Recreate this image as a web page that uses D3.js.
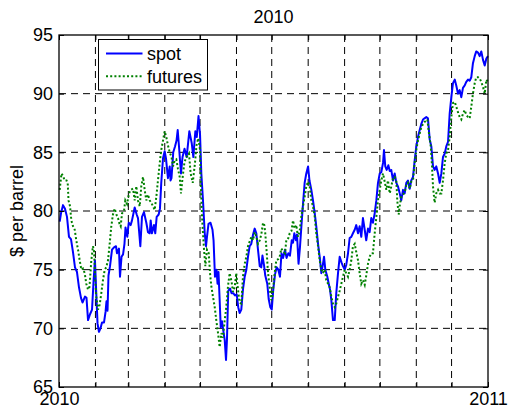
<!DOCTYPE html>
<html>
<head>
<meta charset="utf-8">
<script src="https://cdn.jsdelivr.net/npm/d3@7/dist/d3.min.js"></script>
<style>
  html, body { margin: 0; padding: 0; background: #fff; }
  svg { display: block; }
  text { font-family: "Liberation Sans", Arial, Helvetica, sans-serif; fill: #000; }
</style>
</head>
<body>
<svg id="chart" width="509" height="411"></svg>
<script>
// Crude oil prices in 2010, $ per barrel.
// Days are counted from 1 Jan 2010.
const spotDays = [
  0.6, 1.7, 3.4, 5.1, 6.8, 8.5, 10.2, 11.9, 13.6, 15.3,
  17.0, 18.7, 20.0, 22.1, 23.4, 24.7, 26.4, 28.1, 29.4, 30.6,
  31.9, 32.8, 34.0, 35.3, 36.6, 38.3, 39.6, 40.4, 41.3, 42.1,
  43.4, 45.1, 46.8, 48.5, 49.3, 51.0, 51.9, 53.2, 54.5, 55.7,
  56.6, 58.1, 59.3, 61.0, 62.1, 64.4, 66.1, 67.2, 69.2, 70.6,
  72.3, 74.3, 75.7, 77.2, 78.0, 79.1, 80.8, 81.9, 83.1, 84.8,
  85.9, 87.0, 88.5, 89.9, 91.0, 92.7, 94.2, 94.9, 95.7, 97.2,
  98.7, 100.0, 101.0, 102.1, 103.8, 105.1, 106.8, 108.6, 110.9, 112.9,
  114.3, 116.0, 117.2, 118.7, 120.0, 121.1, 122.5, 124.0, 125.1, 125.9,
  127.2, 128.9, 130.6, 131.5, 132.7, 134.0, 134.9, 135.7, 136.7, 137.6,
  138.7, 139.8, 141.0, 142.1, 142.9, 144.0, 145.5, 146.8, 148.3, 149.7,
  151.2, 152.5, 153.7, 155.1, 156.5, 158.0, 159.4, 160.8, 162.2, 163.6,
  165.1, 166.5, 167.9, 169.3, 170.8, 172.1, 173.1, 174.4, 175.5, 177.2,
  178.4, 179.8, 181.0, 182.3, 183.8, 185.2, 186.6, 188.0, 189.3, 190.6,
  192.3, 193.6, 195.1, 196.5, 198.0, 199.1, 200.2, 201.6, 202.5, 203.8,
  205.0, 206.3, 207.6, 209.0, 210.4, 211.9, 213.1, 214.7, 216.1, 217.6,
  218.9, 220.4, 221.8, 223.2, 224.6, 225.5, 226.6, 228.3, 229.5, 230.6,
  231.7, 233.1, 234.6, 235.9, 237.4, 238.8, 240.4, 241.6, 243.1, 244.4,
  245.9, 247.3, 248.7, 250.1, 251.6, 252.9, 254.4, 255.8, 257.2, 258.6,
  260.1, 261.4, 262.9, 264.3, 265.7, 267.1, 268.6, 270.0, 271.4, 272.9,
  274.2, 275.7, 276.5, 277.6, 278.8, 280.2, 281.4, 282.7, 284.2, 285.6,
  287.0, 288.4, 289.9, 291.2, 292.7, 294.1, 295.5, 296.9, 298.4, 299.7,
  301.2, 302.6, 304.0, 305.4, 306.9, 308.2, 309.7, 311.0, 312.5, 313.9,
  315.4, 316.8, 318.2, 319.6, 321.0, 322.5, 323.9, 325.3, 326.7, 328.2,
  329.5, 331.0, 332.4, 333.8, 335.2, 336.7, 338.0, 339.5, 340.9, 342.3,
  343.7, 345.2, 346.5, 348.0, 349.4, 350.8, 352.2, 353.7, 355.0, 356.5,
  357.9, 359.3, 360.7, 362.2, 363.6, 365.0
];
const spotPrices = [
  79.1, 79.8, 80.5, 80.2, 79.5, 77.8, 77.6, 76.5, 75.2, 74.8,
  73.5, 72.6, 72.2, 72.7, 72.6, 70.7, 71.2, 71.6, 74.0, 75.8,
  72.5, 70.4, 69.7, 70.0, 70.5, 70.5, 71.4, 72.3, 71.5, 74.5,
  75.3, 76.7, 76.9, 77.0, 76.4, 76.8, 74.4, 76.1, 76.3, 77.2,
  78.6, 77.8, 79.0, 78.8, 79.2, 80.3, 79.7, 79.4, 77.0, 79.5,
  79.9, 79.0, 78.2, 78.1, 79.2, 78.1, 78.8, 78.1, 79.5, 79.7,
  80.2, 82.4, 84.5, 85.1, 84.5, 82.8, 83.8, 82.6, 82.8, 85.0,
  85.5, 86.0, 86.9, 85.5, 83.2, 84.6, 85.3, 84.6, 86.8, 85.8,
  84.6, 86.8, 86.3, 88.1, 86.5, 83.2, 80.9, 78.1, 77.0, 77.8,
  78.9, 79.0, 78.4, 77.5, 74.4, 75.0, 73.8, 74.8, 72.4, 70.1,
  70.6, 69.8, 69.0, 67.3, 69.0, 73.2, 73.4, 73.0, 73.0, 72.8,
  72.9, 71.8, 71.3, 71.6, 73.3, 74.4, 75.0, 76.1, 77.0, 77.2,
  78.0, 78.5, 78.1, 76.7, 75.3, 75.2, 76.2, 75.4, 74.5, 73.8,
  72.5, 71.8, 71.6, 73.3, 74.6, 75.2, 75.0, 74.4, 76.4, 76.0,
  76.7, 76.0, 76.4, 76.2, 77.5, 77.3, 78.1, 77.5, 78.0, 75.5,
  76.9, 78.8, 80.6, 82.4, 83.2, 83.8, 82.6, 81.8, 80.9, 79.8,
  78.7, 77.2, 76.1, 74.7, 75.5, 76.1, 75.0, 74.4, 73.8, 73.3,
  72.4, 70.7, 70.7, 73.0, 74.7, 76.1, 75.6, 75.3, 75.0, 75.4,
  76.4, 77.7, 77.8, 78.1, 78.4, 78.8, 78.1, 78.7, 77.8, 79.4,
  78.4, 77.5, 78.5, 78.2, 79.4, 79.0, 79.8, 80.9, 82.4, 83.2,
  83.3, 84.1, 85.2, 83.8, 83.5, 83.9, 83.4, 83.5, 82.6, 83.2,
  82.4, 82.1, 81.5, 80.9, 81.8, 81.5, 82.4, 82.6, 81.9, 82.6,
  82.9, 84.3, 85.5, 86.3, 86.9, 87.4, 87.8, 87.9, 88.0, 87.9,
  86.1, 85.5, 83.8, 83.5, 83.8, 83.2, 82.4, 83.2, 84.6, 84.9,
  85.5, 85.9, 88.3, 89.7, 90.9, 91.2, 90.7, 90.0, 90.3, 89.7,
  90.5, 90.7, 91.0, 91.2, 91.1, 91.4, 92.6, 93.2, 93.6, 93.5,
  93.2, 93.6, 92.9, 92.4, 93.0, 93.2
];

const futuresDays = [
  0.6, 2.1, 3.4, 4.8, 6.4, 7.4, 8.1, 9.4, 10.5, 11.9,
  13.4, 14.7, 16.2, 17.6, 19.0, 20.4, 21.9, 23.2, 24.7, 25.9,
  27.5, 28.9, 29.8, 30.9, 31.7, 33.2, 34.6, 36.0, 37.4, 38.9,
  40.2, 41.7, 43.1, 44.5, 45.9, 47.4, 48.8, 50.2, 51.5, 52.5,
  53.6, 55.3, 56.4, 57.9, 59.6, 61.0, 63.0, 64.4, 65.8, 67.2,
  68.7, 70.0, 71.5, 72.9, 74.3, 75.7, 77.2, 78.5, 80.0, 81.4,
  82.8, 84.2, 85.7, 87.0, 88.5, 89.9, 91.3, 92.7, 94.2, 95.7,
  97.0, 98.4, 99.8, 101.2, 102.7, 103.8, 105.1, 106.8, 108.6, 110.6,
  112.0, 113.8, 115.7, 117.0, 118.5, 120.0, 120.6, 121.7, 122.5, 123.4,
  124.5, 125.9, 127.4, 128.5, 129.6, 131.0, 132.5, 133.8, 135.3, 136.7,
  138.1, 139.5, 141.0, 142.3, 143.8, 145.2, 146.8, 148.0, 149.5, 150.8,
  152.3, 153.6, 155.1, 156.5, 158.0, 159.4, 160.8, 162.2, 163.6, 165.1,
  166.5, 167.9, 169.3, 170.8, 172.1, 173.6, 174.7, 175.5, 176.7, 177.8,
  179.1, 180.6, 181.6, 183.5, 184.9, 186.6, 188.0, 189.1, 190.6, 192.3,
  193.4, 194.8, 196.3, 197.8, 199.1, 200.5, 201.9, 203.3, 204.8, 206.1,
  207.6, 209.0, 210.4, 211.9, 213.3, 214.7, 216.1, 217.6, 218.9, 220.4,
  221.8, 223.2, 224.6, 226.1, 227.4, 228.9, 230.3, 231.7, 233.1, 234.6,
  235.9, 237.4, 238.8, 240.2, 241.6, 243.1, 244.4, 245.9, 247.3, 248.7,
  250.1, 251.6, 252.9, 254.4, 255.8, 257.2, 258.6, 260.1, 261.4, 262.9,
  264.3, 265.7, 267.1, 268.6, 270.0, 271.4, 272.9, 274.2, 275.7, 277.1,
  278.5, 279.9, 281.4, 282.7, 284.2, 285.6, 287.0, 287.8, 289.0, 290.1,
  291.2, 292.7, 294.1, 295.5, 296.9, 298.4, 299.7, 301.2, 302.6, 304.0,
  305.4, 306.9, 308.2, 309.7, 311.1, 313.4, 314.8, 316.3, 317.4, 318.2,
  319.6, 321.0, 322.5, 323.9, 325.3, 326.7, 328.2, 329.5, 331.0, 332.4,
  333.8, 335.2, 336.7, 338.0, 339.5, 340.9, 342.3, 343.7, 345.2, 346.5,
  348.0, 349.4, 350.8, 352.2, 353.7, 355.0, 356.5, 357.9, 359.3, 360.7,
  362.2, 363.6, 365.0
];
const futuresPrices = [
  81.8, 83.2, 83.0, 82.6, 82.6, 82.4, 80.9, 80.4, 79.2, 78.7,
  78.4, 77.5, 76.7, 75.8, 75.0, 75.1, 74.7, 73.8, 73.3, 73.5,
  75.8, 77.0, 76.6, 74.1, 72.7, 71.6, 72.0, 73.0, 74.1, 75.0,
  75.2, 75.8, 77.2, 78.7, 79.7, 80.2, 79.7, 79.4, 78.9, 78.7,
  79.8, 80.0, 80.9, 80.6, 81.5, 81.8, 81.9, 80.9, 82.1, 80.9,
  80.4, 82.1, 82.9, 81.8, 80.9, 81.4, 80.9, 80.7, 80.4, 80.1,
  81.2, 82.6, 84.1, 85.2, 86.0, 86.8, 86.3, 85.6, 85.0, 84.6,
  83.8, 84.3, 84.4, 83.6, 82.9, 81.5, 82.8, 84.2, 84.6, 84.9,
  83.2, 82.4, 84.1, 85.6, 86.2, 85.2, 82.4, 79.5, 78.1, 76.7,
  75.3, 76.7, 76.4, 74.7, 73.6, 72.7, 71.8, 70.7, 69.6, 68.4,
  69.6, 69.2, 70.7, 71.8, 73.6, 74.7, 74.0, 73.1, 73.5, 74.7,
  73.3, 72.2, 72.1, 74.4, 75.5, 76.1, 77.0, 77.4, 77.8, 77.5,
  78.2, 77.8, 77.2, 77.5, 78.0, 79.0, 78.8, 78.1, 76.5, 74.8,
  73.6, 72.4, 72.8, 74.7, 75.8, 75.9, 76.2, 76.8, 76.6, 76.4,
  77.5, 77.6, 78.1, 78.3, 79.2, 78.5, 78.8, 77.8, 78.3, 79.5,
  80.4, 81.2, 82.1, 82.5, 82.1, 80.9, 80.4, 79.5, 78.1, 77.0,
  75.8, 75.0, 74.7, 75.0, 74.1, 73.8, 73.5, 72.7, 72.1, 71.8,
  72.1, 72.7, 73.2, 73.8, 74.4, 75.0, 74.7, 74.4, 75.0, 75.8,
  77.0, 77.2, 76.5, 75.8, 74.7, 73.8, 74.1, 73.7, 74.5, 75.5,
  76.1, 76.4, 76.4, 78.1, 79.5, 80.9, 81.8, 82.6, 83.2, 82.5,
  81.8, 82.6, 81.5, 82.1, 82.8, 82.9, 82.6, 80.9, 79.7, 80.6,
  81.2, 81.4, 81.6, 82.2, 82.4, 81.9, 82.5, 82.6, 84.1, 85.2,
  86.0, 86.6, 87.1, 87.4, 87.6, 87.8, 86.6, 85.5, 83.8, 82.1,
  80.7, 81.5, 81.8, 81.5, 81.5, 82.6, 84.1, 84.9, 85.2, 86.3,
  88.0, 89.2, 89.3, 88.9, 88.4, 88.0, 87.8, 88.3, 88.6, 88.2,
  88.0, 87.9, 88.9, 90.0, 90.9, 91.4, 91.4, 91.3, 91.0, 90.6,
  90.0, 91.2, 91.0
];

const priceTicks = [65, 70, 75, 80, 85, 90, 95];
const priceDomain = [65, 95];
const seriesNames = ["spot", "futures"];
const chartTitle = "2010";
const yLabel = "$ per barrel";

const width = 509, height = 411;
const margin = { top: 35, right: 21, bottom: 24, left: 59 };
const innerW = width - margin.left - margin.right;
const innerH = height - margin.top - margin.bottom;
const font = 18;

const start = new Date(Date.UTC(2010, 0, 1));
const end = new Date(Date.UTC(2011, 0, 1));
const toDate = d => new Date(start.getTime() + d * 864e5);

const x = d3.scaleUtc().domain([start, end]).range([0, innerW]);
const y = d3.scaleLinear().domain(priceDomain).range([innerH, 0]);
const months = d3.utcMonth.range(start, d3.utcDay.offset(end, 1));

const svg = d3.select("#chart");
const g = svg.append("g").attr("transform", `translate(${margin.left},${margin.top})`);

// dashed grid at inner ticks
const gridDash = "7,5";
g.append("g").selectAll("line")
  .data(months.filter(m => m > start && m < end))
  .join("line")
  .attr("x1", d => x(d)).attr("x2", d => x(d))
  .attr("y1", 0).attr("y2", innerH)
  .attr("stroke", "#000").attr("stroke-width", 1)
  .attr("stroke-dasharray", gridDash);
g.append("g").selectAll("line")
  .data(priceTicks.filter(v => v > priceDomain[0] && v < priceDomain[1]))
  .join("line")
  .attr("x1", 0).attr("x2", innerW)
  .attr("y1", d => y(d)).attr("y2", d => y(d))
  .attr("stroke", "#000").attr("stroke-width", 1)
  .attr("stroke-dasharray", gridDash);

// price lines
const line = d3.line()
  .x(d => x(toDate(d[0])))
  .y(d => y(d[1]));

const spot = d3.zip(spotDays, spotPrices);
const futures = d3.zip(futuresDays, futuresPrices);

const plot = g.append("g");
plot.append("path")
  .datum(spot)
  .attr("fill", "none")
  .attr("stroke", "#0000ff")
  .attr("stroke-width", 2)
  .attr("stroke-linejoin", "round")
  .attr("d", line);
plot.append("path")
  .datum(futures)
  .attr("fill", "none")
  .attr("stroke", "#008000")
  .attr("stroke-width", 2)
  .attr("stroke-dasharray", "2,2.2")
  .attr("d", line);

// axes with inward ticks
const styleAxis = sel => {
  sel.select(".domain").remove();
  sel.selectAll(".tick line").attr("stroke", "#000").attr("stroke-width", 1);
  sel.selectAll("text").attr("font-size", font).attr("fill", "#000")
    .attr("font-family", '"Liberation Sans", Arial, Helvetica, sans-serif');
};

g.append("g")
  .call(d3.axisLeft(y).tickValues(priceTicks).tickSize(-5).tickPadding(6).tickFormat(d3.format("d")))
  .call(styleAxis);
g.append("g")
  .attr("transform", `translate(${innerW},0)`)
  .call(d3.axisRight(y).tickValues(priceTicks).tickSize(-5).tickFormat(""))
  .call(styleAxis);
g.append("g")
  .attr("transform", `translate(0,${innerH})`)
  .call(d3.axisBottom(x).tickValues(months).tickSize(-5).tickPadding(5)
    .tickFormat(d => d.getUTCMonth() === 0 ? d3.utcFormat("%Y")(d) : ""))
  .call(styleAxis);
g.append("g")
  .call(d3.axisTop(x).tickValues(months).tickSize(-5).tickFormat(""))
  .call(styleAxis);

// axes box
g.append("rect")
  .attr("width", innerW).attr("height", innerH)
  .attr("fill", "none").attr("stroke", "#000").attr("stroke-width", 1.3);

// title and y label
svg.append("text")
  .attr("x", margin.left + innerW / 2).attr("y", 23)
  .attr("text-anchor", "middle").attr("font-size", font)
  .text(chartTitle);
svg.append("text")
  .attr("transform", `translate(23,${margin.top + innerH / 2}) rotate(-90)`)
  .attr("text-anchor", "middle").attr("font-size", font)
  .text(yLabel);

// legend
const legend = svg.append("g").attr("transform", "translate(98.5,39.5)");
legend.append("rect")
  .attr("width", 109).attr("height", 50.5)
  .attr("fill", "#fff").attr("stroke", "#000").attr("stroke-width", 1);
const legendStyles = [
  { color: "#0000ff", dash: null },
  { color: "#008000", dash: "2,2.2" }
];
seriesNames.forEach((name, i) => {
  const rowY = 14 + i * 22.7;
  legend.append("line")
    .attr("x1", 7.5).attr("x2", 44)
    .attr("y1", rowY).attr("y2", rowY)
    .attr("stroke", legendStyles[i].color)
    .attr("stroke-width", 2)
    .attr("stroke-dasharray", legendStyles[i].dash);
  legend.append("text")
    .attr("x", 48.5).attr("y", rowY + 6.5)
    .attr("font-size", font)
    .text(name);
});
</script>
</body>
</html>
